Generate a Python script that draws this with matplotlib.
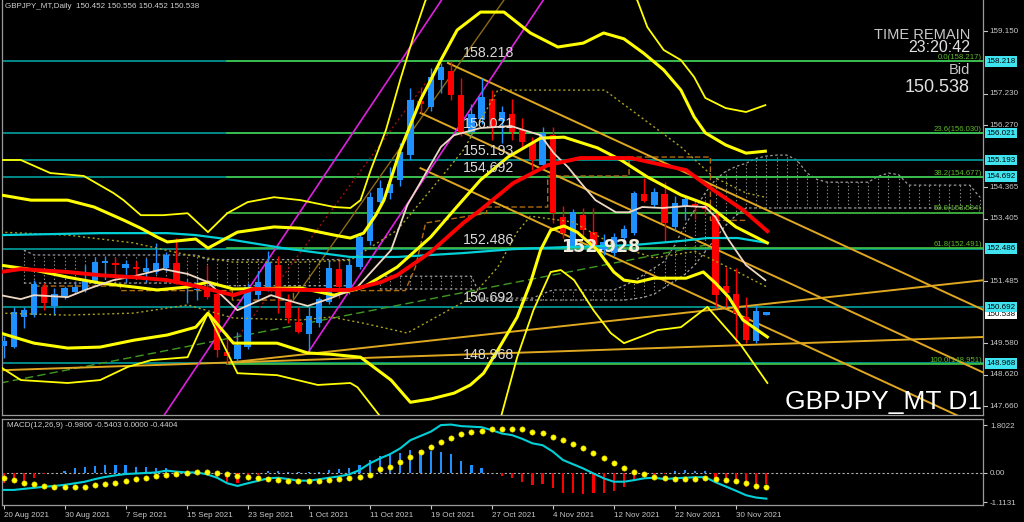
import matplotlib
matplotlib.use("Agg")
import matplotlib.pyplot as plt
from matplotlib.transforms import blended_transform_factory

# ------------------------------------------------------------------ data
date_labels = ["20 Aug 2021", "30 Aug 2021", "7 Sep 2021", "15 Sep 2021",
               "23 Sep 2021", "1 Oct 2021", "11 Oct 2021", "19 Oct 2021",
               "27 Oct 2021", "4 Nov 2021", "12 Nov 2021", "22 Nov 2021",
               "30 Nov 2021"]
date_bars = [0, 6, 12, 18, 24, 30, 36, 42, 48, 54, 60, 66, 72]

opens = [149.50, 149.48, 150.40, 150.45, 151.30, 150.72, 151.01, 151.16, 151.21, 151.47,
         152.03, 152.05, 151.90, 151.93, 151.78, 151.78, 151.88, 152.05, 151.30, 151.22,
         151.22, 151.11, 149.33, 149.12, 149.48, 151.06, 151.32, 151.98, 150.86, 150.24,
         149.86, 150.21, 150.86, 151.85, 151.21, 151.91, 152.73, 153.92, 154.18, 154.58,
         155.35, 157.01, 156.83, 157.65, 157.93, 157.19, 156.07, 156.45, 157.06, 156.40,
         156.61, 156.12, 155.71, 155.04, 155.96, 153.46, 152.54, 153.51, 153.00, 152.45,
         152.34, 152.80, 152.97, 154.16, 153.82, 154.16, 153.15, 153.79, 153.84, 153.80,
         153.51, 151.34, 151.11, 150.40, 149.66, 150.452]
highs = [149.80, 150.70, 150.70, 151.52, 151.43, 151.27, 151.35, 151.50, 151.98, 152.24,
         152.27, 152.24, 152.15, 152.10, 152.20, 152.65, 152.39, 152.81, 151.54, 151.55,
         151.98, 151.20, 149.90, 149.94, 151.42, 151.80, 152.40, 152.26, 151.10, 150.70,
         150.70, 151.00, 152.14, 152.20, 152.20, 152.95, 154.23, 154.60, 155.00, 155.71,
         157.39, 157.39, 158.01, 158.18, 158.218, 157.70, 156.90, 157.70, 157.35, 156.85,
         157.06, 156.48, 155.90, 156.20, 156.22, 153.80, 153.70, 153.72, 153.72, 152.93,
         152.95, 153.20, 154.25, 154.64, 154.35, 154.52, 154.10, 154.10, 154.00, 153.95,
         153.62, 151.93, 151.90, 151.00, 150.76, 150.556]
lows = [149.15, 149.44, 150.05, 150.40, 150.60, 150.45, 150.95, 151.10, 151.15, 151.40,
        151.57, 151.50, 151.45, 151.55, 151.45, 151.70, 151.80, 151.40, 150.81, 150.90,
        150.95, 149.17, 148.951, 149.05, 149.40, 150.95, 151.20, 150.52, 150.20, 149.90,
        149.33, 150.10, 150.80, 150.96, 151.10, 151.85, 152.60, 153.80, 154.00, 154.40,
        155.20, 156.63, 156.70, 157.24, 157.04, 155.95, 155.90, 156.30, 155.81, 155.72,
        155.81, 155.60, 154.90, 154.95, 153.26, 152.80, 152.40, 152.90, 152.40, 152.30,
        152.25, 152.70, 152.90, 153.90, 153.75, 152.70, 153.05, 153.36, 153.40, 153.50,
        150.70, 150.70, 149.58, 149.58, 149.60, 150.452]
closes = [149.65, 150.55, 150.60, 151.40, 150.81, 151.11, 151.27, 151.32, 151.52, 152.08,
          152.11, 151.97, 152.01, 151.85, 151.88, 152.03, 152.29, 151.44, 151.34, 151.26,
          151.01, 149.38, 149.19, 149.53, 151.32, 151.47, 152.08, 151.01, 150.35, 149.94,
          150.43, 150.94, 151.88, 151.32, 151.98, 152.83, 154.07, 154.33, 154.48, 155.45,
          157.04, 156.93, 157.75, 158.04, 157.20, 156.07, 156.60, 157.14, 156.20, 156.67,
          156.07, 155.76, 155.20, 156.02, 153.57, 152.95, 153.61, 153.05, 152.55, 152.70,
          152.85, 153.10, 154.20, 153.95, 154.23, 153.28, 153.89, 154.00, 153.77, 153.70,
          151.06, 151.13, 150.50, 149.68, 150.57, 150.538]

macd_main = [-0.65, -0.65, -0.61, -0.57, -0.53, -0.50, -0.46, -0.40, -0.34, -0.24,
             -0.16, -0.10, -0.05, -0.03, -0.01, 0.01, 0.08, 0.04, 0.01, 0.01,
             -0.06, -0.19, -0.40, -0.50, -0.40, -0.31, -0.21, -0.19, -0.24, -0.30,
             -0.30, -0.25, -0.19, -0.14, -0.06, 0.10, 0.35, 0.54, 0.70, 0.92,
             1.23, 1.39, 1.55, 1.80, 1.82, 1.76, 1.74, 1.72, 1.61, 1.48,
             1.42, 1.28, 1.11, 1.04, 0.80, 0.48, 0.32, 0.16, -0.03, -0.21,
             -0.34, -0.34, -0.28, -0.21, -0.19, -0.24, -0.21, -0.19, -0.17, -0.17,
             -0.36, -0.52, -0.68, -0.85, -0.94, -0.98]
macd_signal = [-0.19, -0.28, -0.38, -0.43, -0.49, -0.53, -0.53, -0.55, -0.53, -0.48,
               -0.43, -0.38, -0.31, -0.24, -0.19, -0.13, -0.09, -0.04, -0.01, 0.01,
               0.01, -0.02, -0.06, -0.13, -0.18, -0.19, -0.25, -0.28, -0.30, -0.31,
               -0.31, -0.30, -0.28, -0.22, -0.19, -0.15, -0.10, 0.13, 0.23, 0.39,
               0.59, 0.79, 0.98, 1.17, 1.32, 1.46, 1.55, 1.57, 1.65, 1.67,
               1.67, 1.65, 1.55, 1.49, 1.36, 1.23, 1.08, 0.92, 0.73, 0.54,
               0.35, 0.19, 0.04, -0.06, -0.15, -0.19, -0.24, -0.24, -0.24, -0.21,
               -0.24, -0.28, -0.31, -0.40, -0.49, -0.54]
macd_hist = [-0.40, -0.34, -0.31, -0.19, -0.06, 0.00, 0.08, 0.16, 0.20, 0.25,
             0.29, 0.29, 0.29, 0.23, 0.20, 0.19, 0.16, 0.08, 0.04, 0.00,
             -0.09, -0.21, -0.34, -0.40, -0.21, -0.09, 0.06, 0.08, 0.02, 0.01,
             0.01, 0.02, 0.10, 0.14, 0.19, 0.31, 0.48, 0.63, 0.69, 0.73,
             0.86, 0.86, 0.83, 0.80, 0.69, 0.45, 0.29, 0.16, -0.02, -0.11,
             -0.21, -0.34, -0.46, -0.43, -0.59, -0.76, -0.76, -0.81, -0.78, -0.76,
             -0.69, -0.53, -0.31, -0.15, -0.09, -0.06, 0.06, 0.10, 0.06, 0.06,
             -0.21, -0.34, -0.40, -0.53, -0.53, -0.44]

# horizontal price levels and fibonacci levels
level_prices = [158.218, 156.021, 155.193, 154.692, 152.486, 150.692, 148.968]
level_texts = ["158.218", "156.021", "155.193", "154.692", "152.486", "150.692", "148.968"]
fib_prices = [158.217, 156.030, 154.677, 153.584, 152.491, 148.951]
fib_texts = ["0.0(158.217)", "23.6(156.030)", "38.2(154.677)", "50.0(153.584)",
             "61.8(152.491)", "100.0(148.951)"]
fib_start_bar = 22
axis_prices = [159.150, 157.230, 156.270, 154.365, 153.405, 151.485, 149.580, 148.620,
               147.660]
axis_texts = ["159.150", "157.230", "156.270", "154.365", "153.405", "151.485", "149.580",
              "148.620", "147.660"]
bid_price = 150.538

# indicator lines: (bar position, price) knots
red_ma_x = [-0.3, 1.7, 6.3, 9.5, 12.8, 16.1, 18.9, 22.6, 24.6, 29.2, 34.1, 37.1, 38.7,
            42.0, 45.2, 46.9, 50.1, 53.5, 56.7, 61.7, 64.9, 67.1, 69.8, 72.7, 75.1]
red_ma_y = [151.77, 151.86, 151.77, 151.67, 151.61, 151.52, 151.34, 151.06, 151.25,
            151.22, 151.22, 151.46, 151.67, 152.38, 153.27, 153.67, 154.49, 155.04,
            155.26, 155.26, 155.04, 154.89, 154.28, 153.67, 153.02]
white_ma_x = [-0.3, 1.7, 3.0, 6.3, 8.3, 10.8, 12.8, 15.7, 18.1, 20.1, 23.0, 26.3, 27.5,
              29.9, 32.2, 34.8, 38.1, 39.7, 41.3, 43.0, 44.3, 46.9, 49.9, 51.1, 52.8,
              54.1, 55.5, 56.7, 58.2, 60.2, 61.5, 62.8, 64.8, 67.1, 69.0, 70.0, 71.3,
              73.0, 74.9]
white_ma_y = [151.06, 150.94, 151.06, 151.00, 151.25, 151.52, 151.64, 151.86, 151.71,
              151.46, 150.60, 151.06, 150.94, 150.73, 150.97, 151.31, 152.44, 153.82,
              154.68, 155.60, 155.96, 156.18, 156.24, 156.12, 155.96, 155.41, 154.98,
              154.52, 153.97, 153.60, 153.60, 153.76, 153.73, 153.79, 153.76, 153.45,
              152.75, 151.98, 151.52]
cyan_ma_x = [-0.3, 9.5, 16.1, 18.9, 22.6, 27.5, 34.1, 38.7, 45.2, 50.1, 55.1, 61.7,
             66.6, 69.2, 72.2, 75.1]
cyan_ma_y = [152.90, 152.96, 152.96, 152.90, 152.75, 152.50, 152.23, 152.23, 152.35,
             152.47, 152.53, 152.59, 152.72, 152.81, 152.81, 152.66]

bb_mid_x = [-0.3, 3.0, 6.3, 9.5, 12.8, 15.1, 18.1, 20.1, 22.6, 29.2, 32.5, 35.4, 38.7,
            42.0, 44.3, 46.9, 49.6, 52.8, 55.1, 58.4, 60.7, 63.3, 66.6, 69.3, 72.0, 75.1]
bb_mid_y = [151.98, 151.83, 151.61, 151.43, 151.31, 151.22, 151.31, 151.46, 151.25,
            151.28, 151.06, 151.31, 151.92, 152.84, 153.67, 154.59, 155.29, 155.87,
            155.90, 155.57, 155.20, 154.68, 154.13, 153.82, 153.15, 152.66]
bb_up2_x = [-0.3, 2.7, 6.3, 8.9, 11.8, 13.5, 15.1, 16.1, 18.9, 20.1, 23.0, 26.6, 29.2,
            32.5, 34.1, 35.4, 36.6, 37.4, 39.0, 41.0, 43.0, 44.6, 46.9, 49.2, 51.8,
            54.5, 57.0, 59.0, 61.0, 62.9, 64.9, 66.6, 67.9, 69.0, 71.0, 73.0, 74.9]
bb_up2_y = [154.13, 153.97, 153.97, 153.76, 153.36, 153.11, 152.84, 152.69, 152.78,
            152.50, 152.99, 153.15, 153.11, 152.90, 152.81, 152.96, 153.51, 153.97,
            155.50, 157.04, 158.26, 159.18, 159.73, 159.73, 159.09, 158.66, 158.78,
            159.09, 158.91, 158.48, 157.96, 157.34, 156.52, 156.03, 155.66, 155.41,
            155.47]
bb_up3_x = [-0.3, 1.7, 4.6, 7.9, 10.8, 11.8, 13.5, 15.7, 18.1, 20.1, 22.0, 24.0, 26.6,
            29.2, 32.5, 34.1, 35.1, 36.1, 37.6, 39.0, 40.5, 41.5, 52.0, 62.3, 63.3,
            64.9, 66.6, 67.9, 69.0, 71.0, 73.0, 74.9]
bb_up3_y = [155.20, 155.20, 154.80, 154.71, 154.19, 153.97, 153.51, 153.51, 153.57,
            152.99, 153.57, 153.91, 154.06, 153.97, 153.76, 153.73, 153.97, 154.89,
            156.12, 157.65, 159.18, 160.10, 162.50, 160.10, 159.27, 158.57, 158.26,
            157.74, 157.10, 156.79, 156.67, 156.88]
bb_lo2_x = [-0.3, 3.0, 6.3, 9.5, 12.8, 16.1, 18.9, 20.1, 22.6, 26.9, 29.9, 32.2, 35.1,
            38.1, 40.0, 42.0, 44.3, 45.9, 47.2, 48.6, 50.5, 51.8, 52.8, 53.8, 55.1,
            56.4, 58.4, 60.0, 61.0, 62.3, 63.9, 67.1, 68.8, 70.0, 71.3, 72.7, 75.1]
bb_lo2_y = [149.90, 149.59, 149.44, 149.47, 149.68, 149.84, 150.08, 150.51, 149.59,
            149.59, 149.29, 149.25, 149.16, 148.46, 147.78, 147.88, 148.06, 148.31,
            148.67, 149.38, 150.39, 151.43, 152.44, 153.05, 153.18, 152.99, 152.44,
            151.77, 151.52, 151.46, 151.58, 151.58, 151.77, 151.43, 151.00, 150.30,
            149.78]
bb_lo3_x = [-0.3, 1.7, 6.3, 9.5, 12.2, 14.5, 18.1, 20.1, 23.0, 26.9, 30.9, 34.1, 34.8,
            37.1, 41.0, 46.0, 48.9, 50.5, 52.1, 53.8, 54.8, 56.1, 58.0, 59.7, 61.0,
            62.6, 64.3, 66.6, 69.2, 72.5, 75.1]
bb_lo3_y = [148.86, 148.46, 148.37, 148.46, 148.86, 149.07, 149.16, 150.51, 148.67,
            148.61, 148.31, 148.37, 148.24, 147.32, 146.30, 146.30, 147.32, 149.16,
            150.60, 151.77, 151.83, 151.52, 150.60, 149.90, 149.59, 149.78, 149.99,
            150.08, 150.70, 149.53, 148.37]
bb_up1_x = [-0.3, 6.3, 12.8, 18.1, 22.6, 29.2, 34.1, 38.7, 42.0, 45.2, 48.6, 59.1,
            66.6, 69.8, 73.0, 74.9]
bb_up1_y = [152.99, 152.90, 152.66, 152.29, 152.07, 152.07, 152.13, 153.05, 154.28,
            155.50, 157.34, 157.34, 155.60, 154.68, 154.19, 154.06]
bb_lo1_x = [-0.3, 6.3, 12.8, 18.1, 22.6, 29.2, 32.2, 35.4, 39.7, 45.9, 48.6, 50.5,
            51.8, 56.0, 60.0, 64.0, 68.0, 72.0, 75.1]
bb_lo1_y = [150.51, 150.45, 150.51, 150.76, 150.36, 150.30, 150.39, 150.20, 149.90,
            150.97, 151.92, 152.99, 153.48, 153.30, 152.60, 152.20, 152.40, 151.80,
            151.30]
# stepped base line (dashed orange)
kijun_x = [3, 11.5, 11.5, 22.5, 22.5, 28.5, 28.5, 39.5, 40.5, 41.5, 47.5, 47.5, 53.5,
           53.5, 61.5, 61.5, 69.5, 69.5, 73.0]
kijun_y = [151.34, 151.34, 151.20, 151.20, 150.91, 150.91, 151.20, 151.20, 151.92,
           153.27, 153.57, 153.76, 153.76, 154.71, 154.71, 155.29, 155.29, 153.35, 153.35]

# ichimoku cloud (spans at each bar)
cloud1_bars = list(range(2, 35))
cloud1_top = [152.44] + [152.29] * 17 + [152.15] * 15
cloud1_bot = [151.43] * 18 + [151.35] * 15
cloud2_bars = list(range(37, 97))
cloud2_top = ([151.64] * 10 + [150.97] * 6 + [151.10] + [151.22] * 7 +
              [151.35, 151.50, 151.70, 151.90, 152.10, 152.60, 153.20, 153.70, 154.20, 154.60,
               154.85, 155.00, 155.10, 155.25, 155.32, 155.35, 155.35, 155.20, 154.80, 154.60] +
              [154.52] * 5 + [154.70, 154.80, 154.75] + [154.43] * 7 + [154.06])
cloud2_bot = ([151.25] * 10 + [150.91] * 14 +
              [150.91, 150.95, 151.00, 151.10, 151.30, 151.50, 151.70, 152.00, 152.40, 152.80,
               153.20, 153.50] + [153.73] * 24)

# trend lines (bar, price) end points
magenta1_x, magenta1_y = [15.4, 43.5], [147.20, 160.30]
magenta2_x, magenta2_y = [30.0, 53.5], [149.33, 160.30]
gold_down1_x, gold_down1_y = [43.7, 96.4], [158.17, 150.60]
gold_down2_x, gold_down2_y = [41.0, 96.4], [156.64, 148.68]
gold_down3_x, gold_down3_y = [41.0, 96.4], [154.95, 147.00]
gold_up1_x, gold_up1_y = [22.0, 96.4], [148.99, 151.52]
gold_up2_x, gold_up2_y = [-0.3, 96.4], [148.76, 149.78]
green_dash_x, green_dash_y = [-0.3, 69.0], [148.37, 152.59]
red_dot_x, red_dot_y = [22.6, 41.5], [149.59, 157.56]
brown_x, brown_y = [28.5, 49.2], [150.91, 160.10]

# ------------------------------------------------------------------ style
BLUE = "#1E90FF"
RED = "#FF0000"
YEL = "#FFFF00"
GOLD = "#E0A820"
TEAL = "#00A0A0"
FIBG = "#44C444"
AXC = "#C8C8C8"

plt.rcParams["font.family"] = ["Liberation Sans", "DejaVu Sans"]

W, H = 1024, 522
fig = plt.figure(figsize=(W / 100, H / 100), dpi=100, facecolor="black")
ax = fig.add_axes([2 / W, 1 - 415 / H, 981 / W, 415 / H], facecolor="black")
ax2 = fig.add_axes([2 / W, 1 - 505 / H, 981 / W, 86 / H], facecolor="black")

XL = (-0.15, 96.3)
ax.set_xlim(*XL)
ax.set_ylim(147.39, 160.10)
ax2.set_xlim(*XL)
ax2.set_ylim(-1.22, 2.03)

for a in (ax, ax2):
    for s in a.spines.values():
        s.set_color("#9a9a9a")
        s.set_linewidth(0.9)
    a.spines["top"].set_visible(False)
ax2.spines["top"].set_visible(True)

# ---- Ichimoku cloud
for bars, top, bot in ((cloud1_bars, cloud1_top, cloud1_bot),
                       (cloud2_bars, cloud2_top, cloud2_bot)):
    ax.vlines(bars, bot, top, colors="#8c8c8c", linestyles=(0, (1.2, 2)), lw=0.8, zorder=1)
    ax.plot(bars, top, color="#9c9c9c", ls=(0, (2, 2)), lw=0.9, zorder=1)
    ax.plot(bars, bot, color="#9c9c9c", ls=(0, (2, 2)), lw=0.9, zorder=1)

# ---- horizontal levels
for p in level_prices:
    ax.axhline(p, color=TEAL, lw=1.2, zorder=2)
for p in fib_prices:
    ax.plot([fib_start_bar, XL[1]], [p, p], color=FIBG, lw=1.2, zorder=2)

# ---- trend lines
ax.plot(green_dash_x, green_dash_y, color="#3f9a22", lw=1.0, ls=(0, (6, 3)), zorder=2)
ax.plot(red_dot_x, red_dot_y, color="#9a1010", lw=1.0, ls=(0, (1.5, 2)), zorder=2)
ax.plot(brown_x, brown_y, color="#8a6a18", lw=1.0, zorder=2)
ax.plot(kijun_x, kijun_y, color="#B06A10", lw=1.0, ls=(0, (4, 2)), zorder=2)
for xs, ys in ((gold_down1_x, gold_down1_y), (gold_down2_x, gold_down2_y),
               (gold_down3_x, gold_down3_y), (gold_up1_x, gold_up1_y),
               (gold_up2_x, gold_up2_y)):
    ax.plot(xs, ys, color=GOLD, lw=1.4, zorder=3)
ax.plot(magenta1_x, magenta1_y, color="#E020E0", lw=1.2, zorder=3)
ax.plot(magenta2_x, magenta2_y, color="#E020E0", lw=1.2, zorder=3)

# ---- candles
for i, (o, h, l, c) in enumerate(zip(opens, highs, lows, closes)):
    col = BLUE if c >= o else RED
    ax.vlines(i, l, h, color=col, lw=1.0, zorder=4)
    ax.bar(i, max(abs(c - o), 0.035), bottom=min(o, c), width=0.62, color=col,
           linewidth=0, zorder=4)

# ---- indicator lines
ax.plot(bb_up1_x, bb_up1_y, color="#a8a020", lw=1.0, ls=(0, (1.5, 2)), zorder=5)
ax.plot(bb_lo1_x, bb_lo1_y, color="#a8a020", lw=1.0, ls=(0, (1.5, 2)), zorder=5)
ax.plot(cyan_ma_x, cyan_ma_y, color="#00D0D8", lw=1.6, zorder=5)
ax.plot(bb_up3_x, bb_up3_y, color=YEL, lw=1.3, zorder=5)
ax.plot(bb_lo3_x, bb_lo3_y, color=YEL, lw=1.3, zorder=5)
ax.plot(bb_up2_x, bb_up2_y, color=YEL, lw=2.2, zorder=5)
ax.plot(bb_lo2_x, bb_lo2_y, color=YEL, lw=2.2, zorder=5)
ax.plot(bb_mid_x, bb_mid_y, color=YEL, lw=2.2, zorder=5)
ax.plot(white_ma_x, white_ma_y, color="#EED9C4", lw=1.3, zorder=6)
ax.plot(red_ma_x, red_ma_y, color=RED, lw=2.8, zorder=6)

# ---- level labels inside the chart
for p, t in zip(level_prices, level_texts):
    ax.text(45.2, p + 0.27, t, color="#DADADA", fontsize=10.2, ha="left", va="center",
            zorder=8)
ax.text(58.7, 152.52, "152.928", color="#F2ECDC", fontsize=12.5, fontweight="bold",
        family="DejaVu Sans", ha="center", va="center", zorder=8)
for p, t in zip(fib_prices, fib_texts):
    ax.text(96.2, p + 0.01, t, color="#5CB82A", fontsize=5.6, ha="right", va="bottom",
            zorder=8)

# ---- right price axis
tr = blended_transform_factory(ax.transAxes, ax.transData)
ax.tick_params(left=False, labelleft=False, bottom=False, labelbottom=False)
for p, t in zip(axis_prices, axis_texts):
    ax.plot([1.0, 1.004], [p, p], color=AXC, lw=0.8, transform=tr, clip_on=False)
    ax.text(1.007, p, t, color=AXC, fontsize=5.8, ha="left", va="center", transform=tr,
            clip_on=False, zorder=9)
ax.text(1.0035, bid_price - 0.06, f"{bid_price:.3f}", color="black", fontsize=5.8,
        ha="left", va="center", transform=tr, clip_on=False, zorder=10,
        bbox=dict(boxstyle="square,pad=0.2", fc="white", ec="none"))
for p, t in zip(level_prices, level_texts):
    ax.text(1.0035, p, t, color="black", fontsize=5.8, ha="left", va="center",
            transform=tr, clip_on=False, zorder=11,
            bbox=dict(boxstyle="square,pad=0.2", fc="#3FE4F0", ec="none"))

# ---- texts on the figure
fig.text(5 / W, 1 - 6 / H, "GBPJPY_MT,Daily  150.452 150.556 150.452 150.538",
         color="#D0D0D0", fontsize=5.8, ha="left", va="center")
fig.text(970 / W, 1 - 35 / H, "TIME REMAIN", color="#C8C8C8", fontsize=10.5,
         ha="right", va="center")
fig.text(970 / W, 1 - 47.5 / H, "23:20:42", color="#E0E0E0", fontsize=11.5,
         ha="right", va="center")
fig.text(970 / W, 1 - 70 / H, "Bid", color="#C8C8C8", fontsize=10.5,
         ha="right", va="center")
fig.text(970 / W, 1 - 87 / H, "150.538", color="#E0E0E0", fontsize=13,
         ha="right", va="center")
fig.text(982 / W, 1 - 402 / H, "GBPJPY_MT D1", color="white", fontsize=19,
         ha="right", va="center")

# ---- MACD panel
hcols = [BLUE if v >= 0 else RED for v in macd_hist]
ax2.bar(range(len(macd_hist)), macd_hist, width=0.22, color=hcols, linewidth=0, zorder=2)
ax2.axhline(0, color="#B0B0B0", lw=0.8, ls=(0, (2, 2)), zorder=1)
ax2.plot(range(len(macd_main)), macd_main, color="#00D0D8", lw=1.5, zorder=3)
ax2.plot(range(len(macd_signal)), macd_signal, ls="none", marker="o", ms=3.8,
         mfc="#FFFF00", mec="#E8D000", mew=0.4, zorder=4)
ax2.text(5 / 981, 0.92, "MACD(12,26,9) -0.9806 -0.5403 0.0000 -0.4404",
         transform=ax2.transAxes, color="#D0D0D0", fontsize=5.8, ha="left", va="center")
ax2.yaxis.tick_right()
ax2.set_yticks([1.8022, 0.0, -1.1131])
ax2.set_yticklabels(["1.8022", "0.00", "-1.1131"])
ax2.set_xticks(date_bars)
ax2.set_xticklabels(date_labels, ha="left")
ax2.tick_params(axis="y", colors=AXC, labelsize=5.8, length=3, width=0.8, pad=2)
ax2.tick_params(axis="x", colors=AXC, labelsize=5.8, length=3, width=0.8, pad=2)

fig.savefig("out.png", dpi=100, facecolor="black")
